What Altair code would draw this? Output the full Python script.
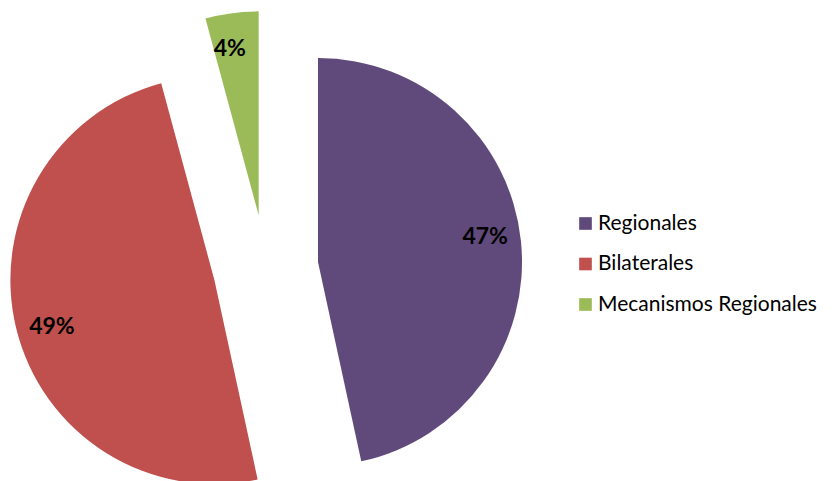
import altair as alt
import pandas as pd

categories = ["Regionales", "Bilaterales", "Mecanismos Regionales"]
values = [46.6, 49.2, 4.2]
labels = ["47%", "49%", "4%"]
colors = ["#604A7B", "#C0504D", "#9BBB59"]

df = pd.DataFrame({"cat": categories, "value": values, "label": labels})

CX, CY = 257.6, 259.6   # pie centre in plot pixels
EXPLODE = 52.7
RADIUS = 204
LABEL_R = 169
LABEL_SHIFT = -0.04     # radians, label placement tweak

base = (
    alt.Chart(df)
    .transform_window(cum="sum(value)", frame=[None, 0])
    .transform_joinaggregate(total="sum(value)")
    .transform_calculate(
        t0="2*PI*(datum.cum - datum.value)/datum.total",
        t1="2*PI*datum.cum/datum.total",
    )
    .transform_calculate(mid="(datum.t0 + datum.t1)/2")
    .transform_calculate(
        px=f"{CX} + {EXPLODE}*sin(datum.mid)",
        py=f"{CY} - {EXPLODE}*cos(datum.mid)",
    )
    .transform_calculate(
        lx=f"datum.px + {LABEL_R}*sin(datum.mid + {LABEL_SHIFT})",
        ly=f"datum.py - {LABEL_R}*cos(datum.mid + {LABEL_SHIFT})",
    )
)

arcs = base.mark_arc(outerRadius=RADIUS).encode(
    theta=alt.Theta("t0:Q", scale=None),
    theta2=alt.Theta2("t1:Q"),
    x=alt.X("px:Q", scale=None, axis=None),
    y=alt.Y("py:Q", scale=None, axis=None),
    color=alt.Color(
        "cat:N",
        scale=alt.Scale(domain=categories, range=colors),
        sort=categories,
        legend=alt.Legend(
            title=None,
            orient="none",
            legendX=567,
            legendY=205,
            symbolType="square",
            symbolSize=160,
            symbolStrokeWidth=0,
            labelFont="Lato",
            labelFontSize=21,
            labelColor="#000000",
            labelOffset=2,
            rowPadding=18.5,
            padding=0,
            labelLimit=400,
        ),
    ),
)

texts = base.mark_text(
    font="Lato", fontSize=23, fontWeight="bold", color="#000000",
    align="center", baseline="middle",
).encode(
    x=alt.X("lx:Q", scale=None, axis=None),
    y=alt.Y("ly:Q", scale=None, axis=None),
    text="label:N",
)

chart = (
    alt.layer(arcs, texts)
    .properties(width=816, height=473, autosize=alt.AutoSizeParams(type="none"), padding=0)
    .configure_view(stroke=None)
)

chart.save("out.html", embed_options={"renderer": "svg", "actions": False})
